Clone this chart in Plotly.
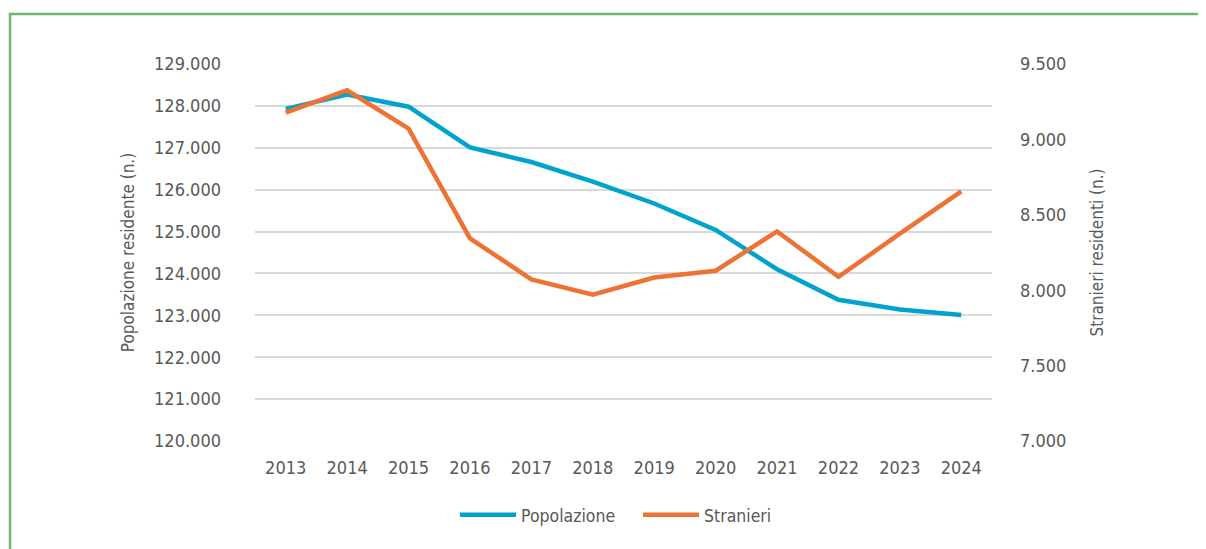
import plotly.graph_objects as go

years = ["2013", "2014", "2015", "2016", "2017", "2018", "2019", "2020", "2021", "2022", "2023", "2024"]
popolazione = [127930, 128270, 127980, 127010, 126660, 126190, 125670, 125040, 124100, 123370, 123140, 123010]
stranieri = [9177, 9326, 9071, 8344, 8072, 7970, 8084, 8129, 8390, 8089, 8375, 8655]

left_ticks = list(range(120000, 129001, 1000))
right_ticks = list(range(7000, 9501, 500))

def fmt(v):
    return f"{v:,}".replace(",", ".")

FONT = "Noto Sans ExtraCondensed, Noto Sans Condensed, Liberation Sans Narrow, DejaVu Sans Condensed, sans-serif"
GREY = "#595959"

def f(size):
    return dict(family=FONT, size=size, color=GREY)

fig = go.Figure()
fig.add_trace(go.Scatter(x=years, y=popolazione, name="Popolazione", mode="lines",
                         line=dict(color="#00A3CC", width=4.5), yaxis="y"))
fig.add_trace(go.Scatter(x=years, y=stranieri, name="Stranieri", mode="lines",
                         line=dict(color="#ED7234", width=4.5), yaxis="y2"))

fig.update_layout(
    width=1198, height=541,
    margin=dict(l=247, r=214, t=56, b=108),
    paper_bgcolor="white", plot_bgcolor="white",
    font=f(18),
    showlegend=True,
    legend=dict(orientation="h", x=0.2714, xanchor="left", y=-0.196, yanchor="middle",
                font=f(17.5), itemwidth=56, tracegroupgap=0,
                entrywidth=112, entrywidthmode="pixels",
                bgcolor="rgba(0,0,0,0)"),
    xaxis=dict(type="category", range=[-0.5, 11.5], showgrid=False, zeroline=False,
               showline=False, ticks="", tickfont=f(18),
               ticklabelstandoff=14),
    yaxis=dict(range=[120000, 129000], tickvals=left_ticks,
               ticktext=[fmt(v) for v in left_ticks],
               showgrid=True, gridcolor="#D9D9D9", gridwidth=1.5, zeroline=False,
               showline=False, ticks="", ticklabelstandoff=33,
               tickfont=f(18),
               title=dict(text="Popolazione residente (n.)", standoff=15,
                          font=f(17))),
    yaxis2=dict(range=[7000, 9500], tickvals=right_ticks,
                ticktext=[fmt(v) for v in right_ticks],
                overlaying="y", side="right", showgrid=False, zeroline=False,
                showline=False, ticks="", ticklabelstandoff=27,
                tickfont=f(18),
                title=dict(text="Stranieri residenti (n.)", standoff=25,
                           font=f(17))),
    shapes=[dict(type="path", xref="paper", yref="paper",
                 path="M -0.3324,-0.5 L -0.3324,1.1326 L 1.40,1.1326",
                 line=dict(color="#6DB872", width=2.5))],
)

fig.write_html("out.html")
